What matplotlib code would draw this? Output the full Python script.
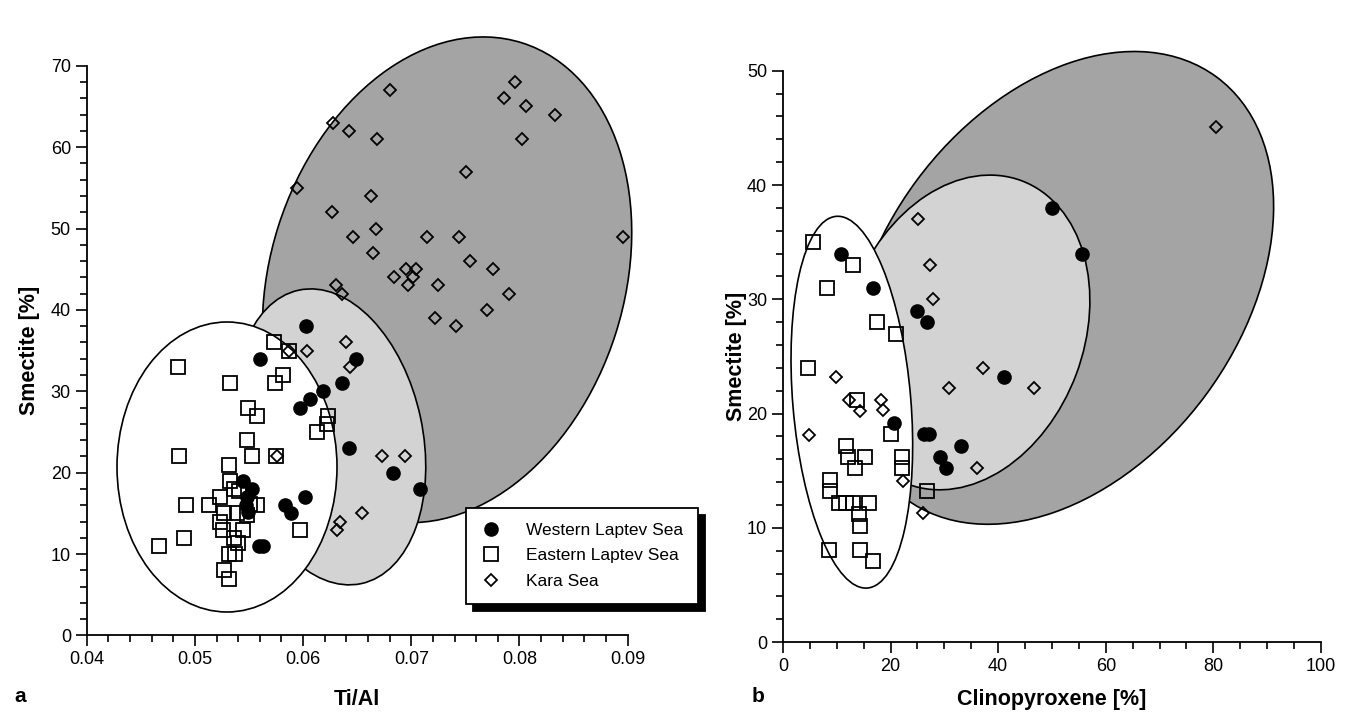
import matplotlib
matplotlib.use('Agg')
import matplotlib.pyplot as plt
import matplotlib.transforms as mtransforms
from matplotlib.patches import Ellipse
from matplotlib.ticker import MultipleLocator, FormatStrFormatter

plt.rcParams['font.family'] = ['Liberation Sans', 'DejaVu Sans']

# ---- panel a : Ti/Al vs smectite
a_west_x = [0.0603, 0.0560, 0.0649, 0.0636, 0.0618, 0.0606, 0.0597, 0.0642, 0.0683, 0.0708,
            0.0602, 0.0583, 0.0589, 0.0559, 0.0563, 0.0544, 0.0553, 0.0548, 0.0547, 0.0549]
a_west_y = [38, 34, 34, 31, 30, 29, 28, 23, 20, 18, 17, 16, 15, 11, 11, 19, 18, 17, 16, 15.2]

a_east_x = [0.0484, 0.0532, 0.0573, 0.0587, 0.0581, 0.0574, 0.0549, 0.0557, 0.0623, 0.0622,
            0.0613, 0.0548, 0.0485, 0.0553, 0.0575, 0.0531, 0.0532, 0.0536, 0.0523, 0.0492,
            0.0513, 0.0557, 0.0539, 0.0527, 0.0523, 0.0548, 0.0526, 0.0544, 0.0597, 0.0490,
            0.0467, 0.0536, 0.0540, 0.0531, 0.0537, 0.0527, 0.0531, 0.0541, 0.0551]
a_east_y = [33, 31, 36, 35, 32, 31, 28, 27, 27, 26,
            25, 24, 22, 22, 22, 21, 19, 18, 17, 16,
            16, 16, 15, 15, 14, 14.8, 13, 13, 13, 12,
            11, 12, 11.4, 10, 10, 8, 7, 17.8, 16.2]

a_kara_x = [0.0680, 0.0796, 0.0786, 0.0806, 0.0833, 0.0628, 0.0642, 0.0668, 0.0802, 0.0751,
            0.0594, 0.0663, 0.0627, 0.0667, 0.0646, 0.0715, 0.0744, 0.0896, 0.0665, 0.0754,
            0.0776, 0.0695, 0.0704, 0.0684, 0.0702, 0.0697, 0.0725, 0.0630, 0.0636, 0.0790,
            0.0770, 0.0722, 0.0741,
            0.0640, 0.0604, 0.0587, 0.0643, 0.0576, 0.0673, 0.0694, 0.0654, 0.0634, 0.0631]
a_kara_y = [67, 68, 66, 65, 64, 63, 62, 61, 61, 57,
            55, 54, 52, 50, 49, 49, 49, 49, 47, 46,
            45, 45, 45, 44, 44, 43, 43, 43, 42, 42,
            40, 39, 38,
            36, 35, 35, 33, 22, 22, 22, 15, 14, 13]

# ---- panel b : clinopyroxene vs smectite
b_west_x = [10.8, 16.8, 24.9, 26.7, 50.1, 55.5, 41.1, 20.7, 26.2, 27.2, 33.0, 29.2, 30.3]
b_west_y = [34, 31, 29, 28, 38, 34, 23.2, 19.2, 18.2, 18.2, 17.2, 16.2, 15.2]

b_east_x = [5.6, 13.0, 8.1, 17.5, 21.0, 4.6, 13.7, 20.0, 11.7, 12.0, 15.2, 13.4, 22.2,
            22.2, 8.7, 8.7, 26.7, 10.4, 11.7, 13.1, 15.9, 14.2, 14.4, 8.5, 14.3, 16.7]
b_east_y = [35, 33, 31, 28, 27, 24, 21.2, 18.2, 17.2, 16.2, 16.2, 15.2, 16.2,
            15.2, 14.2, 13.2, 13.2, 12.2, 12.2, 12.2, 12.2, 11.2, 10.2, 8.1, 8.1, 7.1]

b_kara_x = [25.1, 27.3, 27.9, 37.2, 46.7, 30.9, 9.8, 12.3, 14.3, 18.3, 18.6, 4.9, 22.4,
            36.1, 26.1, 80.5]
b_kara_y = [37, 33, 30, 24, 22.2, 22.2, 23.2, 21.2, 20.2, 21.2, 20.3, 18.1, 14.1,
            15.2, 11.3, 45.1]

legend_labels = ['Western Laptev Sea', 'Eastern Laptev Sea', 'Kara Sea']

# field outlines: centre in data units, width/height in pixels, angle in degrees
fields_a = [((0.07331, 43.7), 497, 354, 72.4, '#a4a4a4'),
            ((0.06249, 24.4), 300, 185, 102, '#d3d3d3'),
            ((0.05296, 20.7), 220, 290, 0, 'white')]
fields_b = [((51.7, 31.0), 524, 360, 53.6, '#a4a4a4'),
            ((33.8, 27.1), 324, 238, 69.5, '#d3d3d3'),
            ((12.8, 21.0), 373, 118, 94.8, 'white')]

fig = plt.figure(figsize=(13.53, 7.15), dpi=100)
ax1 = fig.add_axes([0.0642, 0.1112, 0.3996, 0.7969])
ax2 = fig.add_axes([0.5787, 0.1018, 0.3976, 0.7993])


def draw_fields(ax, fields):
    for (c, w, h, ang, col) in fields:
        tr = mtransforms.ScaledTranslation(c[0], c[1], ax.transData)
        e = Ellipse((0, 0), w, h, angle=ang, transform=tr, facecolor=col,
                    edgecolor='black', lw=1.2, clip_on=False, zorder=1)
        ax.add_artist(e)


def scatter3(ax, wx, wy, ex, ey, kx, ky):
    ax.plot(wx, wy, 'o', ms=9.5, mfc='black', mec='black', ls='none',
            zorder=3, clip_on=False, label=legend_labels[0])
    ax.plot(ex, ey, 's', ms=9.5, mfc='none', mec='black', mew=1.3, ls='none',
            zorder=3, clip_on=False, label=legend_labels[1])
    ax.plot(kx, ky, 'D', ms=6.5, mfc='none', mec='black', mew=1.3, ls='none',
            zorder=3, clip_on=False, label=legend_labels[2])


def style(ax):
    for s in ['top', 'right']:
        ax.spines[s].set_visible(False)
    for s in ['left', 'bottom']:
        ax.spines[s].set_linewidth(1.3)
    ax.tick_params(which='major', direction='out', length=8, width=1.2, labelsize=13)
    ax.tick_params(which='minor', direction='out', length=5, width=1.2)


ax1.set_xlim(0.04, 0.09)
ax1.set_ylim(0, 70)
ax1.xaxis.set_major_locator(MultipleLocator(0.01))
ax1.xaxis.set_minor_locator(MultipleLocator(0.002))
ax1.xaxis.set_major_formatter(FormatStrFormatter('%.2f'))
ax1.yaxis.set_major_locator(MultipleLocator(10))
ax1.yaxis.set_minor_locator(MultipleLocator(2))
draw_fields(ax1, fields_a)
scatter3(ax1, a_west_x, a_west_y, a_east_x, a_east_y, a_kara_x, a_kara_y)
style(ax1)
ax1.set_xlabel('Ti/Al', fontsize=15.5, fontweight='bold', labelpad=15)
ax1.set_ylabel('Smectite [%]', fontsize=15.5, fontweight='bold', labelpad=8)

leg = ax1.legend(loc='upper left', bbox_to_anchor=(0.701, 0.224), borderaxespad=0,
                 fontsize=12.5, frameon=True, fancybox=False, edgecolor='black',
                 handlelength=1.2, handletextpad=1.4, labelspacing=0.6, borderpad=0.85,
                 shadow={'ox': 5, 'oy': -5, 'color': 'black', 'alpha': 1})
leg.get_frame().set_linewidth(1.3)
leg.set_zorder(6)

ax2.set_xlim(0, 100)
ax2.set_ylim(0, 50)
ax2.xaxis.set_major_locator(MultipleLocator(20))
ax2.xaxis.set_minor_locator(MultipleLocator(5))
ax2.yaxis.set_major_locator(MultipleLocator(10))
ax2.yaxis.set_minor_locator(MultipleLocator(2))
draw_fields(ax2, fields_b)
scatter3(ax2, b_west_x, b_west_y, b_east_x, b_east_y, b_kara_x, b_kara_y)
style(ax2)
ax2.set_xlabel('Clinopyroxene [%]', fontsize=15.5, fontweight='bold', labelpad=10)
ax2.set_ylabel('Smectite [%]', fontsize=15.5, fontweight='bold', labelpad=0)

fig.text(14 / 1353, 1 - 697 / 715, 'a', fontsize=15, fontweight='bold', va='center')
fig.text(752 / 1353, 1 - 697 / 715, 'b', fontsize=15, fontweight='bold', va='center')

fig.savefig('out.png', dpi=100)
